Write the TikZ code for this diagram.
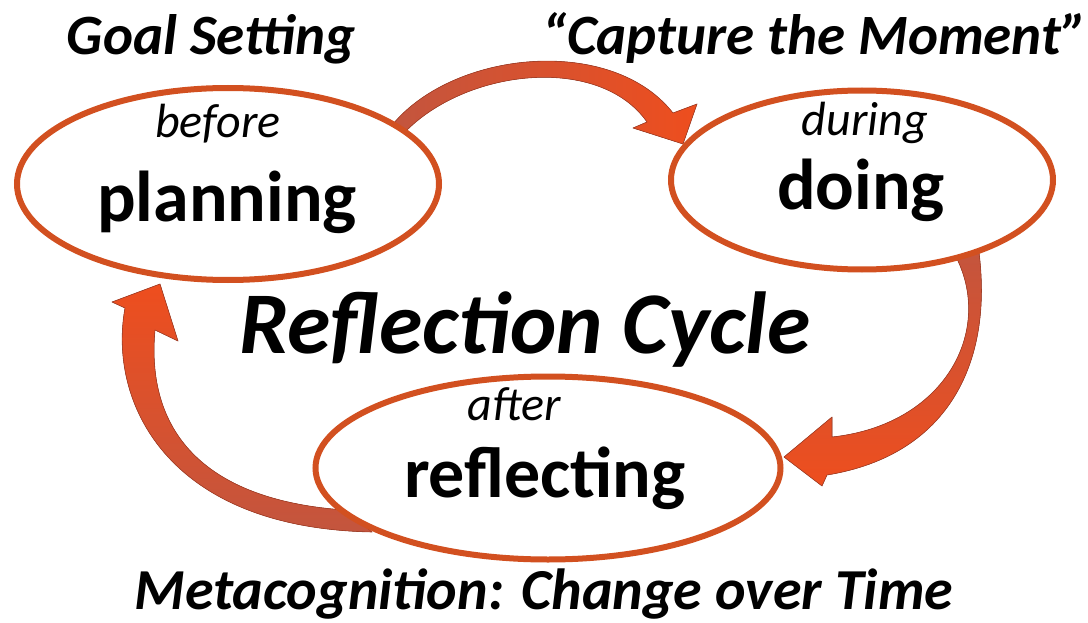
\documentclass[tikz,border=0pt]{standalone}
\usepackage{fontspec}
\setmainfont{Carlito}
\usetikzlibrary{shapes.geometric}
\definecolor{ring}{RGB}{210,80,32}
\definecolor{arrowdark}{RGB}{195,85,62}
\definecolor{arrowbright}{RGB}{238,78,30}
\definecolor{arrowlight}{RGB}{242,115,82}
\definecolor{arrowedge}{RGB}{165,62,38}
\tikzset{
  ring/.style={ellipse, draw=ring, line width=6pt, fill=white, inner sep=0pt},
  bigword/.style={anchor=base, font=\fontsize{72}{80}\selectfont\bfseries},
  smallword/.style={anchor=base, font=\fontsize{48}{54}\selectfont\itshape},
  heading/.style={anchor=base, font=\fontsize{57}{62}\selectfont\bfseries\itshape},
  title/.style={anchor=base, font=\fontsize{88}{94}\selectfont\bfseries\itshape},
  ribbon/.style={draw=arrowedge, line width=0.6pt, line join=round},
}
\begin{document}
\begin{tikzpicture}[x=1pt,y=-1pt]
\useasboundingbox (0,0) rectangle (1088,623);
% arrows (behind the ellipses)
\fill[ribbon, left color=arrowdark, right color=arrowbright]
  (393,124) .. controls (455,50) and (612,35) .. (673,113)
  -- (697,104) -- (683,144) -- (633,128) -- (647,122)
  .. controls (600,55) and (470,68) .. (407,130) -- cycle;
\fill[ribbon, top color=arrowdark, bottom color=arrowbright]
  (955,255) .. controls (995,330) and (945,425) .. (832,437)
  -- (832,417) -- (784,457) -- (822,486) -- (827,475)
  .. controls (950,455) and (995,360) .. (978,245) -- cycle;
\fill[ribbon, top color=arrowbright, bottom color=arrowdark]
  (160,284) -- (112,302) -- (125,308)
  .. controls (108,400) and (165,528) .. (372,532)
  -- (345,510)
  .. controls (200,500) and (146,428) .. (155,330)
  -- (178,341) -- cycle;
% ellipses
\node[ring, minimum width=422pt, minimum height=192pt] (plan) at (228,184) {};
\node[ring, minimum width=382pt, minimum height=179pt] (do) at (862,180) {};
\node[ring, minimum width=465pt, minimum height=183pt] (refl) at (548,468) {};
% texts
\node[heading] (goal) at (211,55) {Goal Setting};
\node[heading] (capture) at (815,55) {“Capture the Moment”};
\node[smallword] (before) at (218,138) {before};
\node[bigword] (planning) at (227,222) {planning};
\node[smallword] (during) at (865,136) {during};
\node[bigword] (doing) at (861,210) {doing};
\node[title] (cycle) at (525,353) {Reflection Cycle};
\node[smallword] (after) at (514,420) {after};
\node[bigword] (reflecting) at (545,497) {reflecting};
\node[heading, font=\fontsize{58}{62}\selectfont\bfseries\itshape] (meta) at (544,609) {Metacognition: Change over Time};
\end{tikzpicture}
\end{document}
